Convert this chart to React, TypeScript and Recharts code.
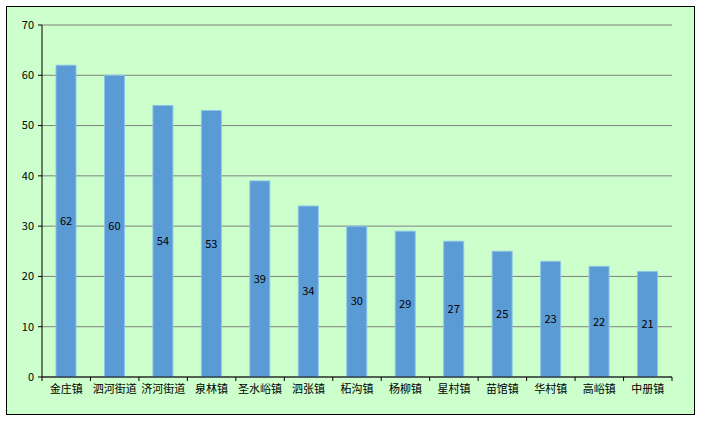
import { BarChart, Bar, XAxis, YAxis, CartesianGrid, LabelList } from 'recharts'

const towns = ['金庄镇', '泗河街道', '济河街道', '泉林镇', '圣水峪镇', '泗张镇', '柘沟镇', '杨柳镇', '星村镇', '苗馆镇', '华村镇', '高峪镇', '中册镇']
const counts = [62, 60, 54, 53, 39, 34, 30, 29, 27, 25, 23, 22, 21]
const yTicks = [0, 10, 20, 30, 40, 50, 60, 70]

const W = 701
const H = 421
const PLOT_LEFT = 42
const PLOT_RIGHT = 672
const BAND = (PLOT_RIGHT - PLOT_LEFT) / towns.length

const FONT = '"Noto Sans CJK SC", "DejaVu Sans", sans-serif'

// category ticks sit on band boundaries like the original, labels stay centred
const TownTick = (props: any) => {
  const { x, y, payload, index } = props
  const left = x - BAND / 2
  const right = x + BAND / 2
  return (
    <g>
      <line x1={left} y1={y - 8} x2={left} y2={y - 4} stroke="#000" />
      {index === towns.length - 1 && <line x1={right} y1={y - 8} x2={right} y2={y - 4} stroke="#000" />}
      <text x={x} y={y + 8} textAnchor="middle" fontSize={11} fontFamily={FONT} fill="#000">
        {payload.value}
      </text>
    </g>
  )
}

export default function App() {
  const data = towns.map((name, i) => ({ name, value: counts[i] }))

  return (
    <div style={{ position: 'absolute', left: 0, top: 0, width: W, height: H, background: '#fff' }}>
      <div
        style={{
          position: 'absolute',
          left: 6,
          top: 6,
          width: 687,
          height: 407,
          border: '1px solid #000',
          background: '#CCFFCC',
        }}
      />
      <div style={{ position: 'absolute', left: 0, top: 0 }}>
        <BarChart
          width={W}
          height={H}
          data={data}
          margin={{ top: 25, right: W - PLOT_RIGHT, left: 6, bottom: 14 }}
          barCategoryGap={0}
        >
          <CartesianGrid vertical={false} stroke="#808080" strokeWidth={1} />
          <XAxis
            dataKey="name"
            height={30}
            axisLine={{ stroke: '#000' }}
            tickLine={false}
            interval={0}
            tick={<TownTick />}
          />
          <YAxis
            width={36}
            domain={[0, 70]}
            ticks={yTicks}
            axisLine={{ stroke: '#000' }}
            tickLine={{ stroke: '#000' }}
            tickSize={4}
            tickMargin={4}
            tick={{ fontSize: 11, fill: '#000', fontFamily: FONT }}
          />
          <Bar dataKey="value" fill="#5B9BD5" stroke="#8CC4E6" strokeWidth={1} barSize={20} isAnimationActive={false}>
            <LabelList dataKey="value" position="center" fontSize={11} fill="#000" fontFamily={FONT} />
          </Bar>
        </BarChart>
      </div>
    </div>
  )
}
